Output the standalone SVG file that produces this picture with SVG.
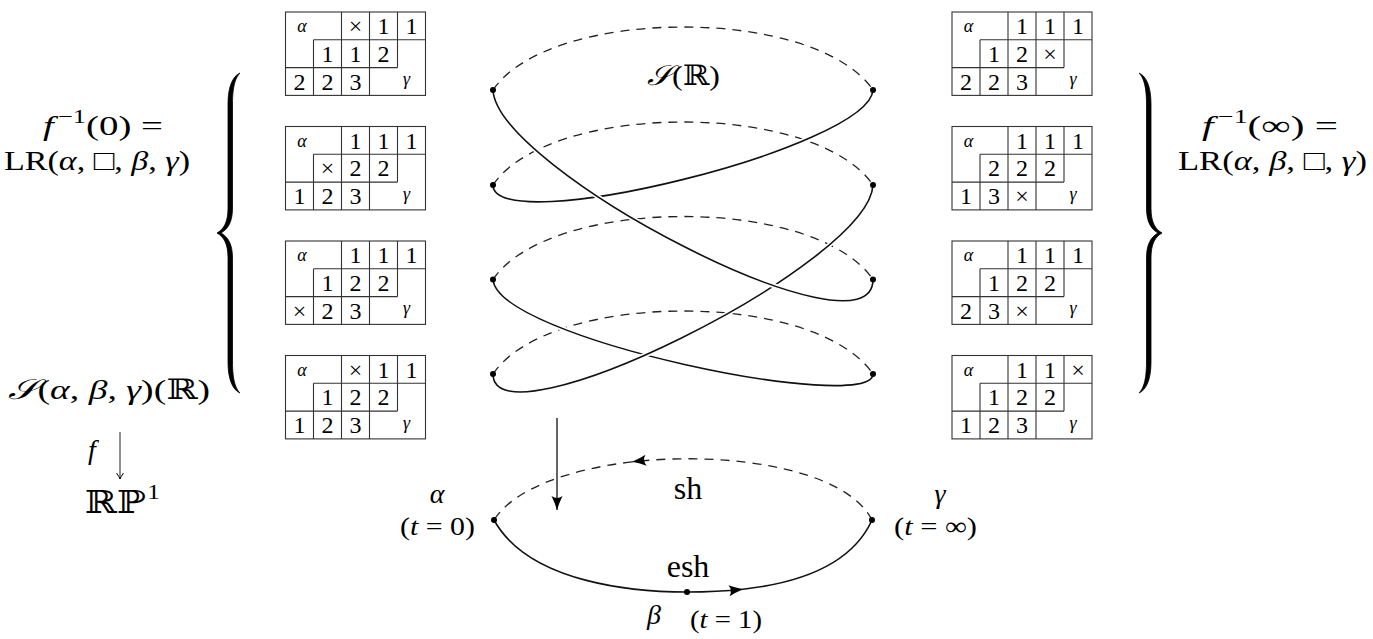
<svg xmlns="http://www.w3.org/2000/svg" width="1373" height="639" viewBox="0 0 1373 639">
<style>
text{font-family:"Liberation Serif","DejaVu Serif",serif;fill:#000}
.n{font-size:24px;text-anchor:middle}
.sm{font-size:18px;font-style:italic;text-anchor:middle}
.it{font-style:italic}
.lbl{font-size:28px}
.mid{text-anchor:middle}
.grid{fill:none;stroke:#333;stroke-width:1.1}
.dash{fill:none;stroke:#222;stroke-width:1.3;stroke-dasharray:9 7}
.solid{fill:none;stroke:#111;stroke-width:1.6}
.halo{fill:none;stroke:#fff;stroke-width:5}
.dot{fill:#000}
.brace{fill:#000;stroke:#000;stroke-width:0.8}
</style>
<defs>
<g id="grid" class="grid">
<rect x="0" y="0" width="140" height="83.4"/>
<path d="M28 27.8H140M0 55.6H112M28 27.8V83.4M56 0V83.4M84 0V83.4M112 0V55.6"/>
</g>
<marker id="stealth" viewBox="-15 -7 17 14" refX="0" refY="0" markerWidth="17" markerHeight="14" markerUnits="userSpaceOnUse" orient="auto">
<path d="M0 0 Q-8 -2.5 -14 -5.5 Q-10 0 -14 5.5 Q-8 2.5 0 0Z" fill="#000"/>
</marker>
<marker id="tip" viewBox="-8 -5 10 10" refX="0" refY="0" markerWidth="10" markerHeight="10" markerUnits="userSpaceOnUse" orient="auto">
<path d="M-6 -3.5 Q-2 -0.6 0 0 Q-2 0.6 -6 3.5" fill="none" stroke="#000" stroke-width="1"/>
</marker>
<path id="lbrace" d="M240 73C233 76 228 86 228 104L228 208C228 222 224 229 217 233C224 237 228 244 228 258L228 362C228 380 233 390 240 393C236 389 232.5 381 232.5 362L232.5 258C232.5 244 228 237 221 233C228 229 232.5 222 232.5 208L232.5 104C232.5 85 236 77 240 73Z"/>
</defs>

<rect width="1373" height="639" fill="#fff"/>

<!-- left labels -->
<g id="label-f0">
<text class="lbl" x="43" y="135" textLength="120" lengthAdjust="spacingAndGlyphs"><tspan class="it">f</tspan><tspan font-size="19" dx="3" dy="-12">−1</tspan><tspan dy="12">(0) =</tspan></text>
<text class="lbl" x="4" y="170" textLength="186" lengthAdjust="spacingAndGlyphs">LR(<tspan class="it">α</tspan>, □, <tspan class="it">β</tspan>, <tspan class="it">γ</tspan>)</text>
</g>
<g id="label-S">
<text class="lbl" x="8" y="399" textLength="202" lengthAdjust="spacingAndGlyphs"><tspan class="it">𝒮</tspan>(<tspan class="it">α</tspan>, <tspan class="it">β</tspan>, <tspan class="it">γ</tspan>)(ℝ)</text>
</g>
<g id="label-f">
<text class="lbl it" font-size="30" x="88" y="459">f</text>
</g>
<g id="label-RP">
<text x="85" y="513" font-size="32" textLength="75" lengthAdjust="spacingAndGlyphs">ℝℙ<tspan font-size="21" dx="1" dy="-14">1</tspan></text>
</g>
<g id="brace-left" class="brace"><use href="#lbrace"/></g>

<!-- right labels -->
<g id="label-finf">
<text class="lbl" x="1202" y="135" textLength="136" lengthAdjust="spacingAndGlyphs"><tspan class="it">f</tspan><tspan font-size="19" dx="3" dy="-12">−1</tspan><tspan dy="12">(∞) =</tspan></text>
<text class="lbl" x="1178" y="170" textLength="189" lengthAdjust="spacingAndGlyphs">LR(<tspan class="it">α</tspan>, <tspan class="it">β</tspan>, □, <tspan class="it">γ</tspan>)</text>
</g>
<g id="brace-right" class="brace"><use href="#lbrace" transform="translate(1379,0) scale(-1,1)"/></g>

<!-- left tableaux -->
<g id="tabL1" transform="translate(285.5,12)"><use href="#grid"/>
<text class="sm" x="16.5" y="20">α</text><text class="sm" x="121" y="73">γ</text>
<text class="n" x="70 98 126" y="22">×11</text><text class="n" x="42 70 98" y="49.8">112</text><text class="n" x="14 42 70" y="77.6">223</text></g>
<g id="tabL2" transform="translate(285.5,126.5)"><use href="#grid"/>
<text class="sm" x="16.5" y="20">α</text><text class="sm" x="121" y="73">γ</text>
<text class="n" x="70 98 126" y="22">111</text><text class="n" x="42 70 98" y="49.8">×22</text><text class="n" x="14 42 70" y="77.6">123</text></g>
<g id="tabL3" transform="translate(285.5,241)"><use href="#grid"/>
<text class="sm" x="16.5" y="20">α</text><text class="sm" x="121" y="73">γ</text>
<text class="n" x="70 98 126" y="22">111</text><text class="n" x="42 70 98" y="49.8">122</text><text class="n" x="14 42 70" y="77.6">×23</text></g>
<g id="tabL4" transform="translate(285.5,355.5)"><use href="#grid"/>
<text class="sm" x="16.5" y="20">α</text><text class="sm" x="121" y="73">γ</text>
<text class="n" x="70 98 126" y="22">×11</text><text class="n" x="42 70 98" y="49.8">122</text><text class="n" x="14 42 70" y="77.6">123</text></g>

<!-- right tableaux -->
<g id="tabR1" transform="translate(952,12)"><use href="#grid"/>
<text class="sm" x="16.5" y="20">α</text><text class="sm" x="121" y="73">γ</text>
<text class="n" x="70 98 126" y="22">111</text><text class="n" x="42 70 98" y="49.8">12×</text><text class="n" x="14 42 70" y="77.6">223</text></g>
<g id="tabR2" transform="translate(952,126.5)"><use href="#grid"/>
<text class="sm" x="16.5" y="20">α</text><text class="sm" x="121" y="73">γ</text>
<text class="n" x="70 98 126" y="22">111</text><text class="n" x="42 70 98" y="49.8">222</text><text class="n" x="14 42 70" y="77.6">13×</text></g>
<g id="tabR3" transform="translate(952,241)"><use href="#grid"/>
<text class="sm" x="16.5" y="20">α</text><text class="sm" x="121" y="73">γ</text>
<text class="n" x="70 98 126" y="22">111</text><text class="n" x="42 70 98" y="49.8">122</text><text class="n" x="14 42 70" y="77.6">23×</text></g>
<g id="tabR4" transform="translate(952,355.5)"><use href="#grid"/>
<text class="sm" x="16.5" y="20">α</text><text class="sm" x="121" y="73">γ</text>
<text class="n" x="70 98 126" y="22">11×</text><text class="n" x="42 70 98" y="49.8">122</text><text class="n" x="14 42 70" y="77.6">123</text></g>

<!-- covering curve S(R) -->
<g id="label-SR">
<text class="lbl" x="647" y="85" textLength="73" lengthAdjust="spacingAndGlyphs"><tspan class="it">𝒮</tspan>(ℝ)</text>
</g>

<g id="connectors">
<path class="dash" d="M493 90C550 6 816 6 873 90"/>
<path class="dash" d="M493 185C550 101 816 101 873 185"/>
<path class="dash" d="M493 279.5C550 195.5 816 195.5 873 279.5"/>
<path class="dash" d="M493 374C550 290 816 290 873 374"/>

<path class="halo" d="M873 90C869 148 493 240 493 185"/>
<path class="solid" d="M873 90C869 148 493 240 493 185"/>
<path class="halo" d="M493 279.5C497 339 873 415 873 374"/>
<path class="solid" d="M493 279.5C497 339 873 415 873 374"/>
<path class="halo" d="M873 185C869 265 493 450 493 374"/>
<path class="solid" d="M873 185C869 265 493 450 493 374"/>
<path class="halo" d="M493 90C497 170 873 365 873 279.5"/>
<path class="solid" d="M493 90C497 170 873 365 873 279.5"/>

<!-- base RP1 -->
<path class="dash" d="M872 520C846.38 469.37 730.34 450.74 632.14 461.86" marker-end="url(#stealth)"/>
<path class="dash" d="M632.14 461.86C569.39 469.18 513.89 488.8 494 520"/>
<path class="solid" d="M494 520C530 585 640 592 687 592C705.25 592 724.25 591.25 742.9 589.2" marker-end="url(#stealth)"/>
<path class="solid" d="M742.9 589.2C798.9 583 851.75 565 872 520"/>

<!-- projection arrows -->
<path class="halo" d="M557 418V505"/>
<path d="M557 418V510" fill="none" stroke="#222" stroke-width="1.4" marker-end="url(#stealth)"/>
<path d="M120 432V479" fill="none" stroke="#222" stroke-width="1" marker-end="url(#tip)"/>
</g>

<g id="dots">
<circle class="dot" cx="493" cy="90" r="3"/><circle class="dot" cx="873" cy="90" r="3"/>
<circle class="dot" cx="493" cy="185" r="3"/><circle class="dot" cx="873" cy="185" r="3"/>
<circle class="dot" cx="493" cy="279.5" r="3"/><circle class="dot" cx="873" cy="279.5" r="3"/>
<circle class="dot" cx="493" cy="374" r="3"/><circle class="dot" cx="873" cy="374" r="3"/>
<circle class="dot" cx="494" cy="520" r="3"/><circle class="dot" cx="872" cy="520" r="3"/><circle class="dot" cx="687" cy="592" r="3"/>
</g>

<g id="node-alpha"><text class="mid it" font-size="28" x="437" y="503">α</text><text font-size="26" x="400" y="535" textLength="75" lengthAdjust="spacingAndGlyphs">(<tspan class="it">t</tspan> = 0)</text></g>
<g id="node-gamma"><text class="mid it" font-size="28" x="940" y="503">γ</text><text font-size="26" x="894" y="535" textLength="83" lengthAdjust="spacingAndGlyphs">(<tspan class="it">t</tspan> = ∞)</text></g>
<g id="node-beta"><text class="mid it" font-size="28" x="654" y="624">β</text><text font-size="26" x="690" y="628" textLength="72" lengthAdjust="spacingAndGlyphs">(<tspan class="it">t</tspan> = 1)</text></g>
<g id="label-sh"><text class="mid" font-size="32" x="688" y="499">sh</text></g>
<g id="label-esh"><text class="mid" font-size="32" x="688" y="577">esh</text></g>
</svg>
